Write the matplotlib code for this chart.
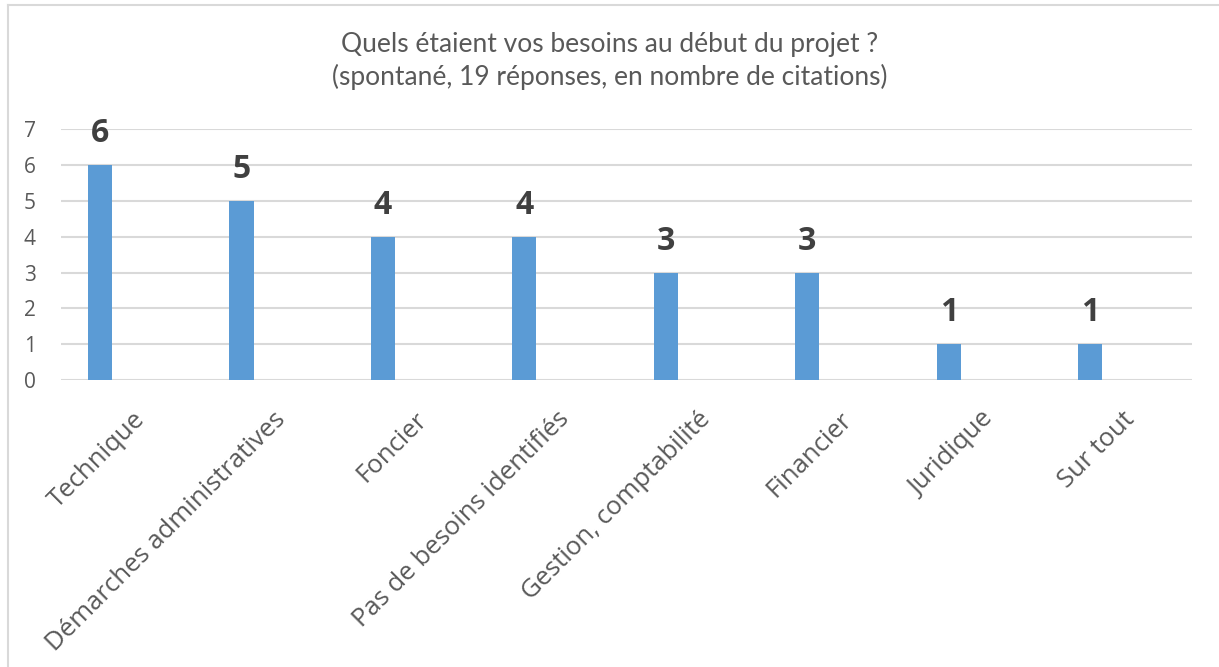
import numpy as np
import matplotlib.pyplot as plt
import matplotlib.transforms as mtransforms
from matplotlib.lines import Line2D

categories = ['Technique', 'Démarches administratives', 'Foncier', 'Pas de besoins identifiés',
              'Gestion, comptabilité', 'Financier', 'Juridique', 'Sur tout']
values = [6, 5, 4, 4, 3, 3, 1, 1]
title = 'Quels étaient vos besoins au début du projet ?\n(spontané, 19 réponses, en nombre de citations)'

bar_color = '#5B9BD5'
grid_color = '#D9D9D9'
text_color = '#595959'
label_color = '#404040'

W, H = 1219, 667
fig = plt.figure(figsize=(W/100, H/100), dpi=100)
ax = fig.add_axes([61/W, 1-380/H, (1192-61)/W, (380-129.3)/H])

x = np.arange(len(categories))
ax.bar(x, values, width=0.17, color=bar_color, zorder=3)

ax.set_ylim(0, 7)
ax.set_xlim(-0.276, 7.72)
ax.set_yticks(range(0, 8))
ax.yaxis.grid(True, color=grid_color, lw=1.5, zorder=0)
for s in ax.spines.values():
    s.set_visible(False)
ax.tick_params(axis='both', length=0, colors=text_color)
ax.tick_params(axis='y', labelsize=15, pad=18)
ax.set_yticklabels([str(v) for v in range(8)], fontfamily='Open Sans')

ax.set_xticks(x)
ax.set_xticklabels(categories, rotation=45, ha='right', rotation_mode='anchor',
                   fontsize=18.5, fontfamily='Open Sans', color=text_color)
offset = mtransforms.ScaledTranslation(0.32, -0.22, fig.dpi_scale_trans)
for lab in ax.get_xticklabels():
    lab.set_transform(lab.get_transform() + offset)

# value labels
for xi, v in zip(x, values):
    ax.annotate(str(v), (xi, v), xytext=(0, 16.5), textcoords='offset points',
                ha='center', va='baseline', fontsize=23, fontweight='bold',
                color=label_color, fontfamily='Open Sans')

fig.text(0.5, 1-61/H, title, ha='center', va='center', fontsize=19,
         color=text_color, fontfamily='Lato', linespacing=1.3)

# chart frame (only top and left edges visible)
fig.add_artist(Line2D([8/W, 8/W], [0, 1-5/H], color=grid_color, lw=1.5, transform=fig.transFigure))
fig.add_artist(Line2D([8/W, 1], [1-5/H, 1-5/H], color=grid_color, lw=1.5, transform=fig.transFigure))

fig.savefig('out.png', dpi=100)
